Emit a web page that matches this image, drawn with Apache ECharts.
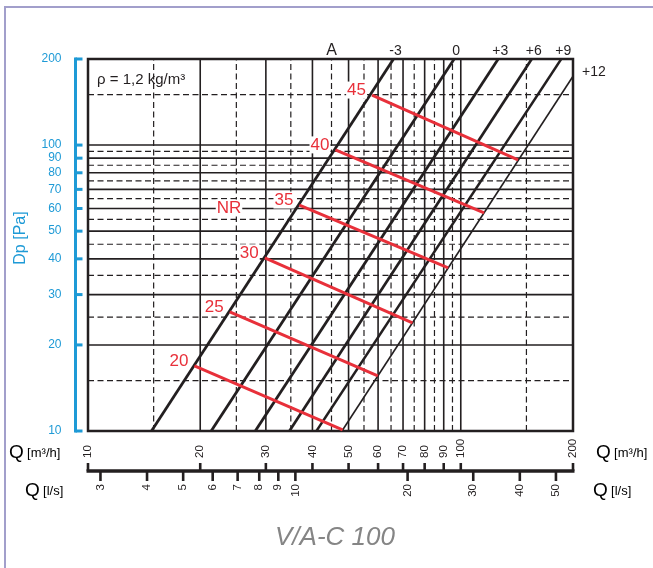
<!DOCTYPE html>
<html><head><meta charset="utf-8">
<script src="https://cdn.jsdelivr.net/npm/echarts@6/dist/echarts.min.js"></script>
<style>html,body{margin:0;padding:0;background:#fff}#c{width:653px;height:568px}</style>
</head><body><div id="c"></div>
<script>
// ---- data ----
const gridSolid = [20, 30, 40, 50, 60, 70, 80, 90, 100];
const gridDashed = [15, 25, 35, 45, 55, 65, 75, 85, 95, 150];
const dpTicks = [10, 20, 30, 40, 50, 60, 70, 80, 90, 100, 200];
const qM3hTicks = [10, 20, 30, 40, 50, 60, 70, 80, 90, 100, 200];
const qLsTicks = [3, 4, 5, 6, 7, 8, 9, 10, 20, 30, 40, 50];
const lineLabels = ['-3', '0', '+3', '+6', '+9', '+12'];
const lineStart = [[14.8, 10], [21.4, 10], [28.1, 10], [34.7, 10], [41.0, 10], [48.0, 10]];
const lineEnd = [[66, 200], [96, 200], [126, 200], [155, 200], [186, 200], [200, 174]];
const nrLabels = ['20', '25', '30', '35', '40', '45'];
const nrStart = [[19.3, 16.9], [24.0, 26.1], [29.8, 40.3], [36.9, 61.7], [46.1, 96.2], [57.8, 149.6]];
const nrEnd = [[48.2, 10.1], [59.9, 15.6], [74.2, 23.9], [92.5, 37.2], [115.5, 57.9], [142.4, 88.7]];
const headerLabel = ['A', 45, 200];
const LS_TO_M3H = 3.6;

// ---- styles ----
const BLACK = '#231f20', RED = '#e8303a', BLUE = '#1e9ad6';
const FONT = '"Liberation Sans", Arial, sans-serif';
const X0 = 10, X1 = 200, Y0 = 10, Y1 = 200;

const chart = echarts.init(document.getElementById('c'), null, {renderer: 'canvas'});

function gridSeries(values, orient, dashed) {
  return {
    type: 'custom', silent: true, z: 1, clip: false, animation: false,
    data: values.map(v => orient === 'v' ? [v, Y0] : [X0, v]),
    renderItem: (p, api) => {
      const v = api.value(orient === 'v' ? 0 : 1);
      const a = orient === 'v' ? api.coord([v, Y0]) : api.coord([X0, v]);
      const b = orient === 'v' ? api.coord([v, Y1]) : api.coord([X1, v]);
      return {type: 'line', shape: {x1: a[0], y1: a[1], x2: b[0], y2: b[1]},
        style: {stroke: BLACK, lineWidth: dashed ? 1.2 : 1.6, lineDash: dashed ? [6, 3.5] : null}};
    }
  };
}

const series = [];
series.push(gridSeries(gridSolid, 'v', false));
series.push(gridSeries(gridSolid, 'h', false));
series.push(gridSeries(gridDashed, 'v', true));
series.push(gridSeries(gridDashed, 'h', true));

const blackWidths = [2.8, 2.8, 2.8, 2.7, 2.4, 1.6];
lineStart.forEach((s, i) => {
  series.push({type: 'line', data: [s, lineEnd[i]], symbol: 'none', showSymbol: false, silent: true,
    z: 3, lineStyle: {color: BLACK, width: blackWidths[i]}, animation: false});
});
nrStart.forEach((s, i) => {
  series.push({type: 'line', data: [s, nrEnd[i]], symbol: 'none', showSymbol: false, silent: true,
    z: 4, lineStyle: {color: RED, width: 3}, animation: false});
});

// red NR labels
series.push({
  type: 'custom', silent: true, z: 6, clip: false, animation: false,
  data: nrStart,
  renderItem: (p, api) => {
    const c = api.coord([api.value(0), api.value(1)]);
    return {type: 'text', x: c[0] - 5, y: c[1] - 5,
      style: {text: nrLabels[p.dataIndex], fill: RED, font: '17px ' + FONT, align: 'right',
        verticalAlign: 'middle', backgroundColor: '#fff', padding: [0, 1, 0, 1]}};
  }
});

// labels of the black lines
series.push({
  type: 'custom', silent: true, z: 6, clip: false, animation: false,
  data: lineEnd,
  renderItem: (p, api) => {
    const c = api.coord([api.value(0), api.value(1)]);
    const last = p.dataIndex === lineEnd.length - 1;
    return {type: 'text', x: last ? c[0] + 9 : c[0] + 2, y: last ? c[1] - 4 : c[1] - 8,
      style: {text: lineLabels[p.dataIndex], fill: BLACK, font: '14px ' + FONT,
        align: last ? 'left' : 'center', verticalAlign: 'middle'}};
  }
});
// header "A"
series.push({
  type: 'custom', silent: true, z: 6, clip: false, animation: false,
  data: [[headerLabel[1], headerLabel[2]]],
  renderItem: (p, api) => {
    const c = api.coord([api.value(0), api.value(1)]);
    return {type: 'text', x: c[0], y: c[1] - 8,
      style: {text: headerLabel[0], fill: BLACK, font: '16px ' + FONT, align: 'center', verticalAlign: 'middle'}};
  }
});

// left blue Dp axis
series.push({
  type: 'custom', silent: true, z: 6, clip: false, animation: false,
  data: dpTicks.map(v => [X0, v]),
  renderItem: (p, api) => {
    const v = api.value(1);
    const c = api.coord([X0, v]);
    const x0 = c[0] - 12.5;
    const ch = [
      {type: 'line', shape: {x1: x0, y1: c[1], x2: x0 + 7, y2: c[1]}, style: {stroke: BLUE, lineWidth: 3}},
      {type: 'text', x: x0 - 14, y: c[1], style: {text: String(v), fill: BLUE, font: '12px ' + FONT,
        align: 'right', verticalAlign: 'middle'}}
    ];
    if (p.dataIndex === 0) {
      const t = api.coord([X0, dpTicks[dpTicks.length - 1]]);
      ch.push({type: 'line', shape: {x1: x0, y1: c[1] + 1.5, x2: x0, y2: t[1] - 1.5}, style: {stroke: BLUE, lineWidth: 3}});
    }
    return {type: 'group', children: ch};
  }
});

// bottom Q m3/h scale
series.push({
  type: 'custom', silent: true, z: 6, clip: false, animation: false,
  data: qM3hTicks.map(v => [v, Y0]),
  renderItem: (p, api) => {
    const v = api.value(0);
    const c = api.coord([v, Y0]);
    const yl = c[1] + 40;
    const ch = [
      {type: 'line', shape: {x1: c[0], y1: yl, x2: c[0], y2: yl - 8}, style: {stroke: BLACK, lineWidth: 2.6}},
      {type: 'text', x: c[0], y: yl - 13, rotation: Math.PI / 2,
        style: {text: String(v), fill: BLACK, font: '11.5px ' + FONT, align: 'left', verticalAlign: 'middle'}}
    ];
    if (p.dataIndex === 0) {
      const e = api.coord([qM3hTicks[qM3hTicks.length - 1], Y0]);
      ch.push({type: 'line', shape: {x1: c[0] - 1.5, y1: yl, x2: e[0] + 1.5, y2: yl}, style: {stroke: BLACK, lineWidth: 3.5}});
    }
    return {type: 'group', children: ch};
  }
});
// bottom Q l/s scale
series.push({
  type: 'custom', silent: true, z: 6, clip: false, animation: false,
  data: qLsTicks.map(v => [v * LS_TO_M3H, Y0]),
  renderItem: (p, api) => {
    const c = api.coord([api.value(0), Y0]);
    const yl = c[1] + 40;
    return {type: 'group', children: [
      {type: 'line', shape: {x1: c[0], y1: yl, x2: c[0], y2: yl + 10}, style: {stroke: BLACK, lineWidth: 2.6}},
      {type: 'text', x: c[0], y: yl + 13, rotation: Math.PI / 2,
        style: {text: String(qLsTicks[p.dataIndex]), fill: BLACK, font: '11.5px ' + FONT, align: 'right', verticalAlign: 'middle'}}
    ]};
  }
});

const qRich = {q: {fontSize: 19, fontFamily: FONT, color: BLACK}, u: {fontSize: 13, fontFamily: FONT, color: BLACK}};

chart.setOption({
  animation: false,
  backgroundColor: '#fff',
  grid: {left: 88, top: 59, width: 485, height: 372, show: true, borderColor: BLACK, borderWidth: 2.5, backgroundColor: 'transparent', z: 2},
  xAxis: {type: 'log', logBase: 10, min: X0, max: X1, axisLine: {show: false}, axisTick: {show: false},
    axisLabel: {show: false}, splitLine: {show: false}, minorSplitLine: {show: false}},
  yAxis: {type: 'log', logBase: 10, min: Y0, max: Y1, axisLine: {show: false}, axisTick: {show: false},
    axisLabel: {show: false}, splitLine: {show: false}, minorSplitLine: {show: false}},
  graphic: [
    {type: 'rect', z: 0, shape: {x: 5, y: 7, width: 700, height: 620}, style: {fill: 'none', stroke: '#a29fcb', lineWidth: 2}},
    {type: 'text', z: 10, x: 97, y: 80, style: {text: 'ρ = 1,2 kg/m³', fill: BLACK, font: '15px ' + FONT, align: 'left', verticalAlign: 'middle'}},
    {type: 'text', z: 10, x: 229, y: 208, style: {text: 'NR', fill: RED, font: '17px ' + FONT, align: 'center', verticalAlign: 'middle', backgroundColor: '#fff', padding: [0, 1, 0, 1]}},
    {type: 'text', z: 10, x: 21, y: 238, rotation: Math.PI / 2, style: {text: 'Dp [Pa]', fill: BLUE, font: '16px ' + FONT, align: 'center', verticalAlign: 'middle'}},
    {type: 'text', z: 10, x: 9, y: 453, style: {text: '{q|Q} {u|[m³/h]}', rich: qRich, align: 'left', verticalAlign: 'middle'}},
    {type: 'text', z: 10, x: 596, y: 453, style: {text: '{q|Q} {u|[m³/h]}', rich: qRich, align: 'left', verticalAlign: 'middle'}},
    {type: 'text', z: 10, x: 25, y: 491, style: {text: '{q|Q} {u|[l/s]}', rich: qRich, align: 'left', verticalAlign: 'middle'}},
    {type: 'text', z: 10, x: 593, y: 491, style: {text: '{q|Q} {u|[l/s]}', rich: qRich, align: 'left', verticalAlign: 'middle'}},
    {type: 'text', z: 10, x: 335, y: 538, style: {text: 'V/A-C 100', fill: '#858585', font: 'italic 26px ' + FONT, align: 'center', verticalAlign: 'middle'}}
  ],
  series: series
});
</script>
</body></html>
